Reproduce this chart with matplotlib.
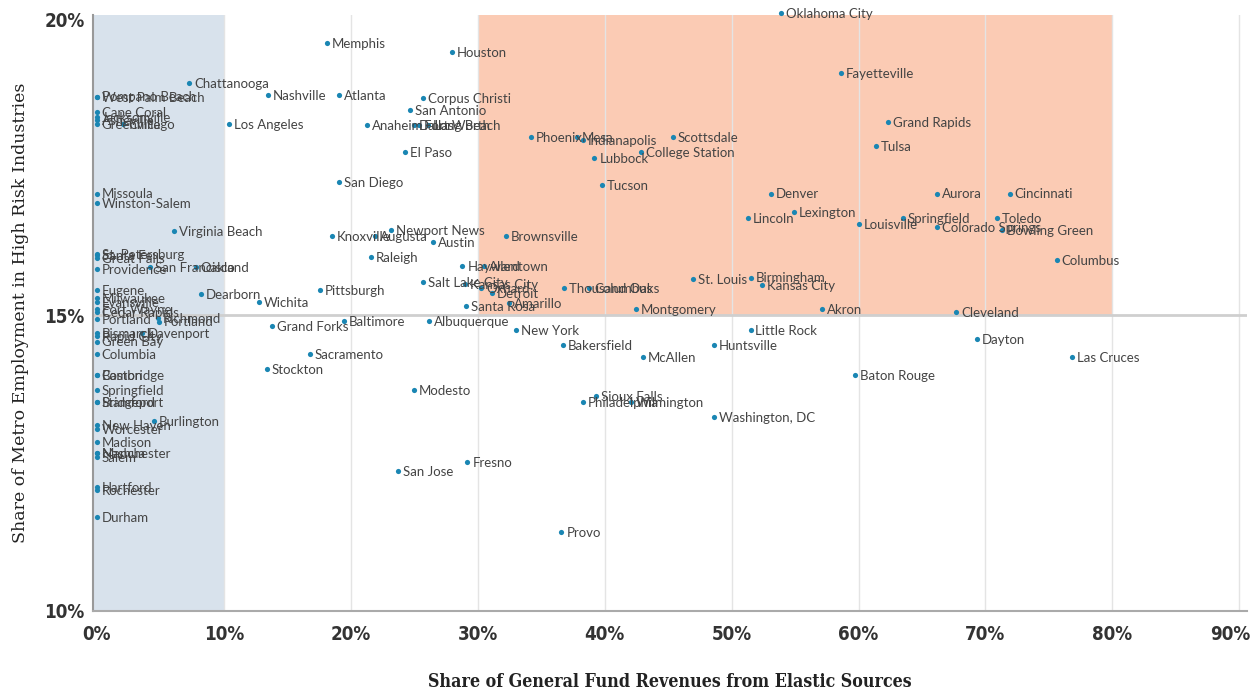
import matplotlib
matplotlib.use("Agg")
import matplotlib.pyplot as plt
import matplotlib.transforms as mtransforms

# ── data (share of revenues from elastic sources %, share of employment in high-risk industries %) ──
cities = [
    "Pompano Beach", "West Palm Beach", "Cape Coral", "Jacksonville", "Asheville", "Greenville",
    "Missoula", "Winston-Salem", "St. Petersburg", "Santa Fe", "Great Falls", "Providence",
    "Eugene", "Milwaukee", "Evansville", "Fort Wayne", "Cedar Rapids", "Portland",
    "Bismarck", "Rapid City", "Green Bay", "Columbia", "Boston", "Cambridge",
    "Springfield", "Stamford", "Bridgeport", "New Haven", "Worcester", "Madison",
    "Manchester", "Nashua", "Salem", "Hartford", "Rochester", "Durham",
    "Chicago", "Davenport", "San Francisco", "Burlington", "Richmond", "Portland",
    "Virginia Beach", "Chattanooga", "Oakland", "Dearborn", "Los Angeles", "Wichita",
    "Stockton", "Nashville", "Grand Forks", "Sacramento", "Pittsburgh", "Memphis",
    "Knoxville", "Atlanta", "San Diego", "Baltimore", "Anaheim", "Raleigh",
    "Augusta", "Newport News", "San Jose", "El Paso", "San Antonio", "Modesto",
    "Dallas", "Fort Worth", "Corpus Christi", "Salt Lake City", "Long Beach", "Albuquerque",
    "Austin", "Houston", "Hayward", "Kansas City", "Santa Rosa", "Fresno",
    "Oxnard", "Allentown", "Detroit", "Brownsville", "Amarillo", "New York",
    "Phoenix", "Provo", "Bakersfield", "Thousand Oaks", "Mesa", "Indianapolis",
    "Columbus", "Lubbock", "Sioux Falls", "Tucson", "Philadelphia", "Wilmington",
    "Montgomery", "College Station", "McAllen", "Scottsdale", "St. Louis", "Huntsville",
    "Washington, DC", "Lincoln", "Birmingham", "Little Rock", "Kansas City", "Denver",
    "Oklahoma City", "Lexington", "Akron", "Fayetteville", "Baton Rouge", "Louisville",
    "Tulsa", "Grand Rapids", "Springfield", "Colorado Springs", "Aurora", "Cleveland",
    "Dayton", "Toledo", "Bowling Green", "Cincinnati", "Columbus", "Las Cruces",
]
elastic = [
    0, 0, 0, 0, 0, 0,
    0, 0, 0, 0, 0, 0,
    0, 0, 0, 0, 0, 0,
    0, 0, 0, 0, 0, 0,
    0, 0, 0, 0, 0, 0,
    0, 0, 0, 0, 0, 0,
    2.1, 3.6, 4.2, 4.5, 4.8, 4.9,
    6.1, 7.3, 7.8, 8.2, 10.4, 12.8,
    13.4, 13.5, 13.8, 16.8, 17.6, 18.1,
    18.5, 19.1, 19.1, 19.5, 21.3, 21.6,
    21.9, 23.2, 23.7, 24.3, 24.7, 25.0,
    25.0, 25.4, 25.7, 25.7, 26.1, 26.2,
    26.5, 28.0, 28.8, 29.0, 29.1, 29.2,
    30.3, 30.5, 31.1, 32.2, 32.5, 33.0,
    34.2, 36.6, 36.7, 36.8, 37.8, 38.3,
    38.8, 39.2, 39.3, 39.8, 38.3, 42.1,
    42.5, 42.9, 43.0, 45.4, 47.0, 48.6,
    48.6, 51.3, 51.5, 51.5, 52.4, 53.1,
    53.9, 54.9, 57.1, 58.6, 59.7, 60.0,
    61.4, 62.3, 63.5, 66.2, 66.2, 67.7,
    69.3, 70.9, 71.3, 71.9, 75.6, 76.8,
]
high_risk = [
    18.69, 18.68, 18.43, 18.34, 18.29, 18.23,
    17.05, 16.89, 16.03, 16.01, 15.96, 15.78,
    15.42, 15.29, 15.22, 15.10, 15.05, 14.93,
    14.70, 14.64, 14.55, 14.34, 13.99, 13.99,
    13.73, 13.53, 13.53, 13.14, 13.07, 12.85,
    12.67, 12.67, 12.60, 12.09, 12.04, 11.59,
    18.23, 14.70, 15.81, 13.21, 14.95, 14.89,
    16.42, 18.92, 15.81, 15.35, 18.23, 15.22,
    14.09, 18.72, 14.81, 14.34, 15.42, 19.59,
    16.33, 18.72, 17.25, 14.90, 18.21, 15.98,
    16.33, 16.44, 12.36, 17.75, 18.46, 13.73,
    18.21, 18.21, 18.67, 15.56, 18.21, 14.90,
    16.23, 19.44, 15.83, 15.52, 15.15, 12.52,
    15.46, 15.83, 15.37, 16.33, 15.20, 14.75,
    18.01, 11.33, 14.49, 15.46, 18.01, 17.96,
    15.46, 17.65, 13.63, 17.20, 13.53, 13.53,
    15.10, 17.75, 14.29, 18.01, 15.61, 14.49,
    13.28, 16.64, 15.63, 14.75, 15.51, 17.05,
    20.10, 16.74, 15.10, 19.09, 13.99, 16.54,
    17.85, 18.26, 16.64, 16.49, 17.05, 15.05,
    14.59, 16.64, 16.44, 17.05, 15.93, 14.29,
]

x_ticks = [0, 10, 20, 30, 40, 50, 60, 70, 80, 90]
y_ticks = [10, 15, 20]

DOT = "#1a86b3"
LABEL = "#444444"

fig = plt.figure(figsize=(12.53, 6.9), dpi=100)
ax = fig.add_axes([0.0742, 0.1145, 0.921, 0.8638])

ax.set_xlim(-0.3, 90.6)
ax.set_ylim(10, 20.07)

# shaded zones
ax.axvspan(-0.3, 10, color="#d8e2ec", zorder=0, lw=0)
ax.fill_between([30, 80], 15, 20.07, color="#fbcbb4", zorder=0, lw=0)

# grid + reference line
for xt in x_ticks[1:]:
    ax.axvline(xt, color="#e4e4e4", lw=1, zorder=1)
ax.axhline(15, color="#cfcfcf", lw=2, zorder=1)

ax.scatter(elastic, high_risk, s=14, color=DOT, zorder=3, clip_on=False, lw=0)
for name, xv, yv in zip(cities, elastic, high_risk):
    ax.annotate(name, (xv, yv), xytext=(3.5, -0.5), textcoords="offset points",
                va="center", ha="left", fontsize=9.5, color=LABEL,
                family="Lato", zorder=4, annotation_clip=False)

for s in ["top", "right"]:
    ax.spines[s].set_visible(False)
ax.spines["left"].set_color("#999999")
ax.spines["left"].set_linewidth(1.5)
ax.spines["bottom"].set_color("#aaaaaa")
ax.spines["bottom"].set_linewidth(1.5)

ax.set_xticks(x_ticks)
ax.set_xticklabels([f"{t}%" for t in x_ticks])
ax.set_yticks(y_ticks)
ax.set_yticklabels([f"{t}%" for t in y_ticks])
ax.tick_params(length=0)
ax.tick_params(axis="x", pad=10)
ax.tick_params(axis="y", pad=6)
for lab in ax.get_xticklabels() + ax.get_yticklabels():
    lab.set_family(["DejaVu Sans"])
    lab.set_fontstretch("condensed")
    lab.set_fontweight("bold")
    lab.set_fontsize(13.5)
    lab.set_color("#333333")
# last x label sits a little inside the figure edge
last = ax.get_xticklabels()[-1]
last.set_transform(last.get_transform() +
                   mtransforms.ScaledTranslation(-9 / 100, 0, fig.dpi_scale_trans))

ax.set_xlabel("Share of General Fund Revenues from Elastic Sources",
              family=["DejaVu Serif"], fontstretch="condensed", fontweight="bold",
              fontsize=12.8, color="#222222", labelpad=21)
ax.set_ylabel("Share of Metro Employment in High Risk Industries",
              family=["DejaVu Serif"], fontsize=12.5, color="#222222", labelpad=11)

fig.savefig("out.png", dpi=100)
